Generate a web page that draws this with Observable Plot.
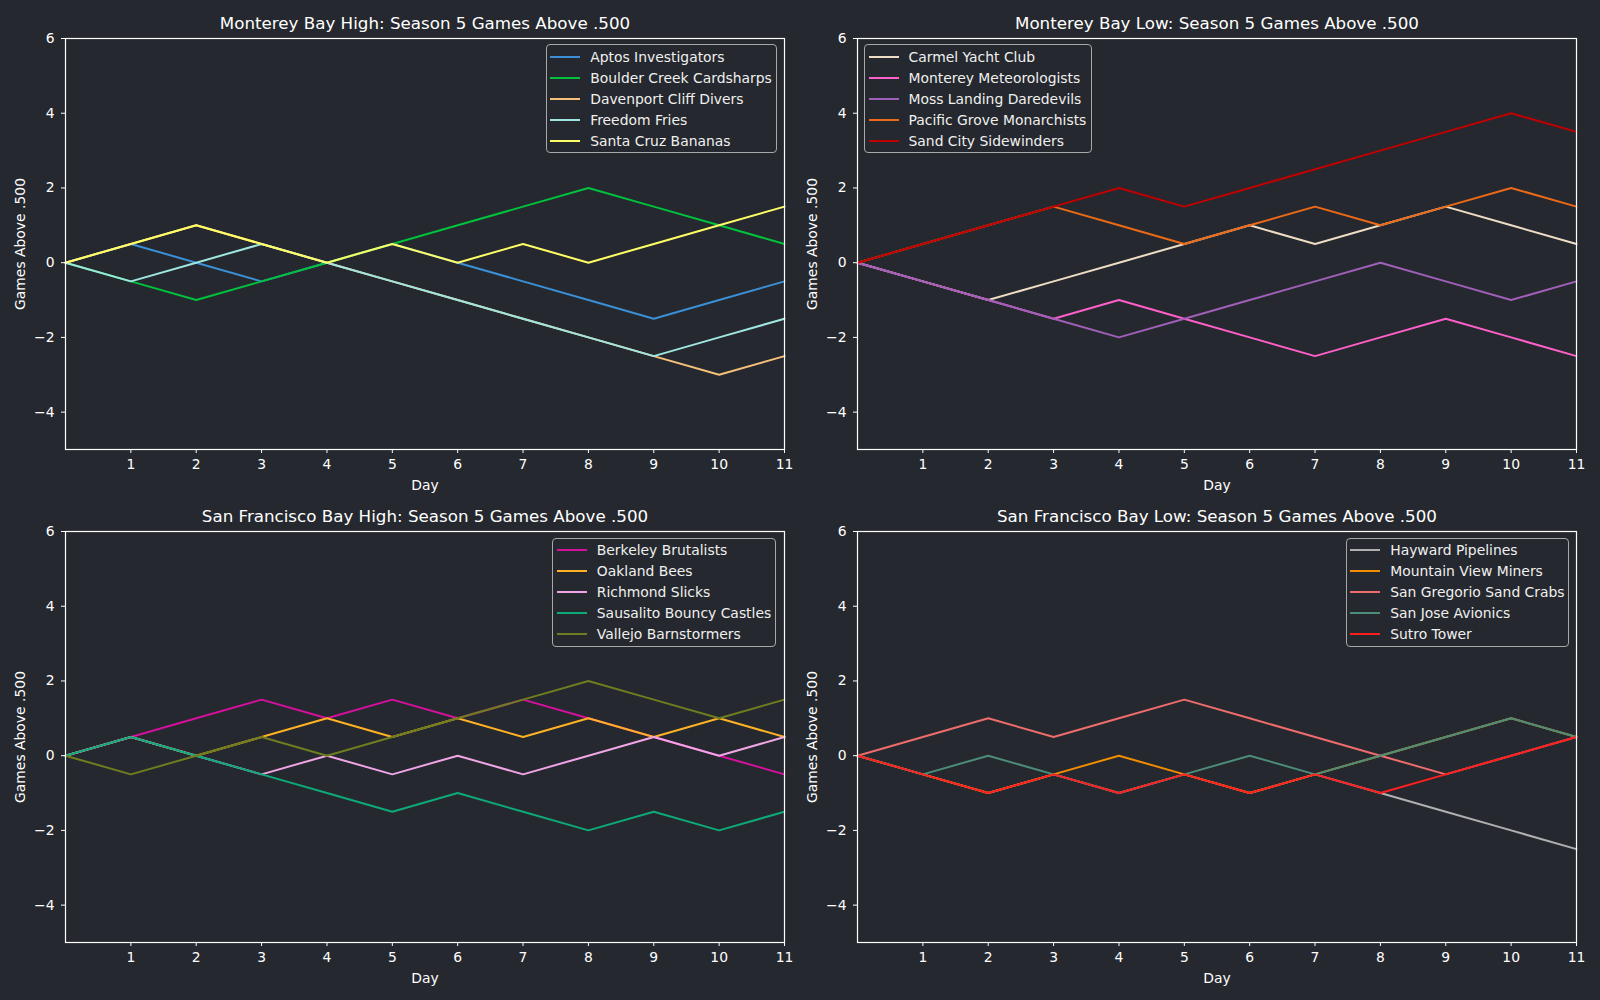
<!DOCTYPE html>
<html>
<head>
<meta charset="utf-8">
<script src="https://cdn.jsdelivr.net/npm/d3@7"></script>
<script src="https://cdn.jsdelivr.net/npm/@observablehq/plot@0.6"></script>
<style>
  html, body { margin: 0; padding: 0; background: #25282e; }
  #root { position: relative; width: 1600px; height: 1000px; background: #25282e; font-family: "DejaVu Sans", sans-serif; overflow: hidden; }
  .panel { position: absolute; }
  .legend { position: absolute; border: 1px solid #a8a8a8; border-radius: 4px; background: #25282e; padding: 1px 0 3px 0; box-sizing: border-box; height: 109px; }
  .legend .row { display: flex; align-items: center; height: 21px; color: #f0f0f0; font-size: 13.9px; white-space: nowrap; }
  .legend .sw { flex: 0 0 30px; width: 30px; height: 2px; margin-left: 3.5px; margin-right: 10px; }
</style>
</head>
<body>
<div id="root"></div>
<script>
// ---- data ----
const days = [0, 1, 2, 3, 4, 5, 6, 7, 8, 9, 10, 11];
const xTicks = [1, 2, 3, 4, 5, 6, 7, 8, 9, 10, 11];
const yTicks = [-4, -2, 0, 2, 4, 6];

const titles = [
  "Monterey Bay High: Season 5 Games Above .500",
  "Monterey Bay Low: Season 5 Games Above .500",
  "San Francisco Bay High: Season 5 Games Above .500",
  "San Francisco Bay Low: Season 5 Games Above .500"
];

// Monterey Bay High
const mbHighTeams = ["Aptos Investigators", "Boulder Creek Cardsharps", "Davenport Cliff Divers", "Freedom Fries", "Santa Cruz Bananas"];
const mbHighColors = ["#3b8fd6", "#00c23c", "#f5c07a", "#a0e6e0", "#ffff66"];
const aptos      = [0, 0.5, 0, -0.5, 0, 0.5, 0, -0.5, -1, -1.5, -1, -0.5];
const boulder    = [0, -0.5, -1, -0.5, 0, 0.5, 1, 1.5, 2, 1.5, 1, 0.5];
const davenport  = [0, 0.5, 1, 0.5, 0, -0.5, -1, -1.5, -2, -2.5, -3, -2.5];
const freedom    = [0, -0.5, 0, 0.5, 0, -0.5, -1, -1.5, -2, -2.5, -2, -1.5];
const santaCruz  = [0, 0.5, 1, 0.5, 0, 0.5, 0, 0.5, 0, 0.5, 1, 1.5];

// Monterey Bay Low
const mbLowTeams = ["Carmel Yacht Club", "Monterey Meteorologists", "Moss Landing Daredevils", "Pacific Grove Monarchists", "Sand City Sidewinders"];
const mbLowColors = ["#eedcc4", "#ff5fc8", "#a05fb8", "#ec6a17", "#c00000"];
const carmel       = [0, -0.5, -1, -0.5, 0, 0.5, 1, 0.5, 1, 1.5, 1, 0.5];
const montereyMet  = [0, -0.5, -1, -1.5, -1, -1.5, -2, -2.5, -2, -1.5, -2, -2.5];
const mossLanding  = [0, -0.5, -1, -1.5, -2, -1.5, -1, -0.5, 0, -0.5, -1, -0.5];
const pacificGrove = [0, 0.5, 1, 1.5, 1, 0.5, 1, 1.5, 1, 1.5, 2, 1.5];
const sandCity     = [0, 0.5, 1, 1.5, 2, 1.5, 2, 2.5, 3, 3.5, 4, 3.5];

// San Francisco Bay High
const sfHighTeams = ["Berkeley Brutalists", "Oakland Bees", "Richmond Slicks", "Sausalito Bouncy Castles", "Vallejo Barnstormers"];
const sfHighColors = ["#d4109c", "#ffb224", "#f0a6e6", "#0ea97a", "#6e7d20"];
const berkeley  = [0, 0.5, 1, 1.5, 1, 1.5, 1, 1.5, 1, 0.5, 0, -0.5];
const oakland   = [0, 0.5, 0, 0.5, 1, 0.5, 1, 0.5, 1, 0.5, 1, 0.5];
const richmond  = [0, 0.5, 0, -0.5, 0, -0.5, 0, -0.5, 0, 0.5, 0, 0.5];
const sausalito = [0, 0.5, 0, -0.5, -1, -1.5, -1, -1.5, -2, -1.5, -2, -1.5];
const vallejo   = [0, -0.5, 0, 0.5, 0, 0.5, 1, 1.5, 2, 1.5, 1, 1.5];

// San Francisco Bay Low
const sfLowTeams = ["Hayward Pipelines", "Mountain View Miners", "San Gregorio Sand Crabs", "San Jose Avionics", "Sutro Tower"];
const sfLowColors = ["#b0b0b0", "#f28c00", "#ee6c6c", "#4c8c78", "#ff1f1f"];
const hayward      = [0, -0.5, -1, -0.5, -1, -0.5, -1, -0.5, -1, -1.5, -2, -2.5];
const mountainView = [0, -0.5, -1, -0.5, 0, -0.5, -1, -0.5, 0, 0.5, 1, 0.5];
const sanGregorio  = [0, 0.5, 1, 0.5, 1, 1.5, 1, 0.5, 0, -0.5, 0, 0.5];
const sanJose      = [0, -0.5, 0, -0.5, -1, -0.5, 0, -0.5, 0, 0.5, 1, 0.5];
const sutro        = [0, -0.5, -1, -0.5, -1, -0.5, -1, -0.5, -1, -0.5, 0, 0.5];

// ---- build ----
const panels = [
  {title: titles[0], teams: mbHighTeams, colors: mbHighColors, series: [aptos, boulder, davenport, freedom, santaCruz],
   left: 0, top: 0, legend: {left: 545.7, top: 44.3, width: 231}},
  {title: titles[1], teams: mbLowTeams, colors: mbLowColors, series: [carmel, montereyMet, mossLanding, pacificGrove, sandCity],
   left: 792, top: 0, legend: {left: 864, top: 44.3, width: 228}},
  {title: titles[2], teams: sfHighTeams, colors: sfHighColors, series: [berkeley, oakland, richmond, sausalito, vallejo],
   left: 0, top: 493, legend: {left: 552.3, top: 537.7, width: 224}},
  {title: titles[3], teams: sfLowTeams, colors: sfLowColors, series: [hayward, mountainView, sanGregorio, sanJose, sutro],
   left: 792, top: 493, legend: {left: 1345.7, top: 537.7, width: 223}}
];

const root = document.getElementById("root");

for (const p of panels) {
  const rows = [];
  p.teams.forEach((team, i) => {
    days.forEach((d, j) => rows.push({team, day: d, value: p.series[i][j]}));
  });

  const chart = Plot.plot({
    width: 800,
    height: 500,
    marginLeft: 65,
    marginRight: 16,
    marginTop: 38,
    marginBottom: 51,
    style: {background: "transparent", color: "#ffffff", fontFamily: "DejaVu Sans", fontSize: "13.9px", overflow: "visible"},
    x: {domain: [0, 11]},
    y: {domain: [-5, 6]},
    color: {domain: p.teams, range: p.colors},
    marks: [
      Plot.line(rows, {x: "day", y: "value", z: "team", stroke: "team", strokeWidth: 2}),
      Plot.frame({stroke: "#ffffff", strokeWidth: 1.2}),
      Plot.axisX(xTicks, {anchor: "bottom", tickSize: 4, tickPadding: 6, stroke: "#ffffff", label: "Day", labelAnchor: "center", labelArrow: "none", labelOffset: 40}),
      Plot.axisY(yTicks, {anchor: "left", tickSize: 4, tickPadding: 7, stroke: "#ffffff", label: "Games Above .500", labelAnchor: "center", labelArrow: "none", labelOffset: 50}),
      Plot.text([p.title], {frameAnchor: "top", lineAnchor: "bottom", dy: -9.5, fontSize: 16.7, fill: "#ffffff"})
    ]
  });
  chart.classList.add("panel");
  chart.style.left = p.left + "px";
  chart.style.top = p.top + "px";
  root.appendChild(chart);

  const lg = document.createElement("div");
  lg.className = "legend";
  lg.style.left = p.legend.left + "px";
  lg.style.top = p.legend.top + "px";
  lg.style.width = p.legend.width + "px";
  p.teams.forEach((team, i) => {
    const r = document.createElement("div");
    r.className = "row";
    const sw = document.createElement("div");
    sw.className = "sw";
    sw.style.background = p.colors[i];
    const t = document.createElement("span");
    t.textContent = team;
    r.appendChild(sw);
    r.appendChild(t);
    lg.appendChild(r);
  });
  root.appendChild(lg);
}
</script>
</body>
</html>
